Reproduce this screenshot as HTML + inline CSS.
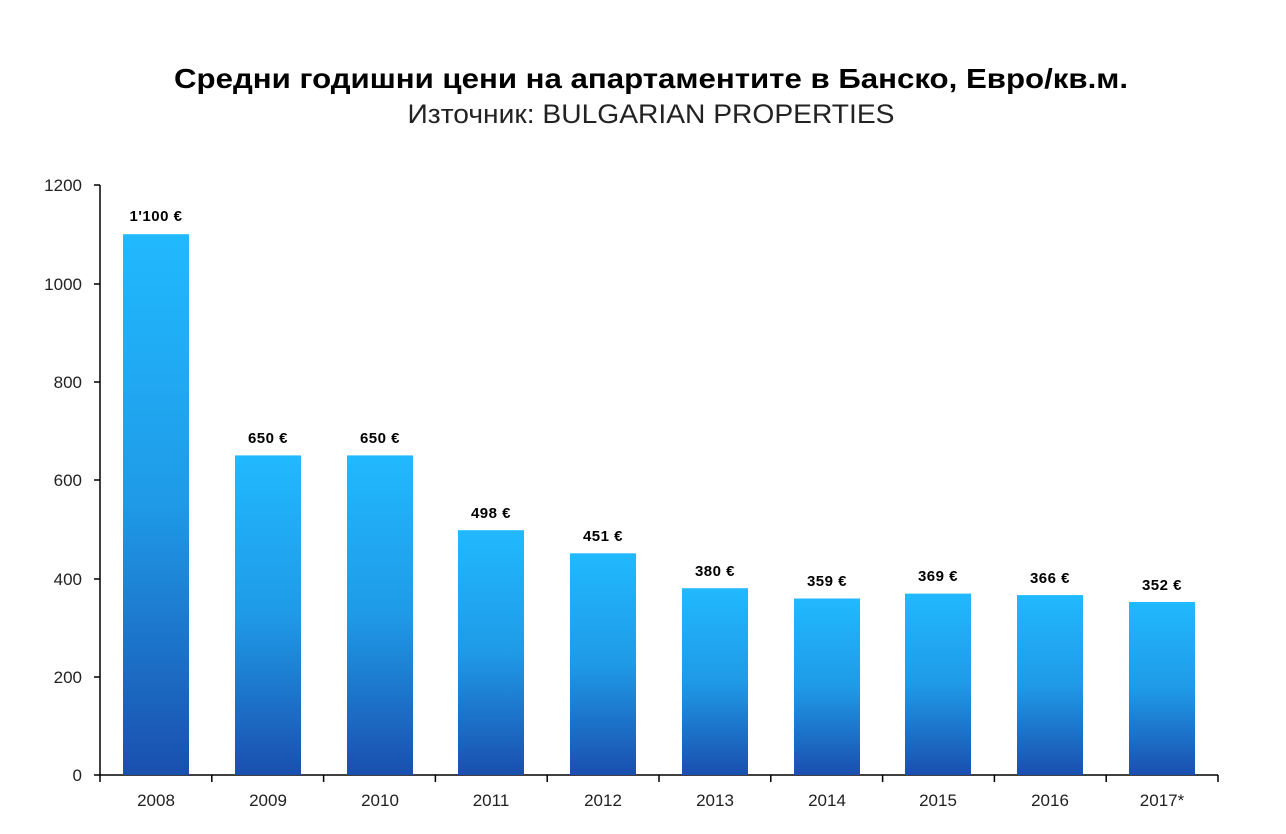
<!DOCTYPE html>
<html><head><meta charset="utf-8"><style>
html,body{margin:0;padding:0;background:#fff;}
svg{display:block;font-family:"Liberation Sans","DejaVu Sans",sans-serif;}
</style></head><body>
<svg width="1286" height="834" viewBox="0 0 1286 834" xmlns="http://www.w3.org/2000/svg">
<defs>
<linearGradient id="g" x1="0" y1="0" x2="0" y2="1">
<stop offset="0" stop-color="#21b9ff"/>
<stop offset="0.5" stop-color="#1f9ae6"/>
<stop offset="1" stop-color="#1a4fae"/>
</linearGradient>
</defs>
<text x="651" y="88" text-anchor="middle" font-size="28" font-weight="bold" textLength="954" lengthAdjust="spacingAndGlyphs">Средни годишни цени на апартаментите в Банско, Евро/кв.м.</text>
<text x="651" y="123" text-anchor="middle" font-size="27" fill="#222" textLength="487" lengthAdjust="spacingAndGlyphs">Източник: BULGARIAN PROPERTIES</text>
<g font-size="17" fill="#222" text-anchor="end">
<text x="82" y="781">0</text>
<text x="82" y="683">200</text>
<text x="82" y="585">400</text>
<text x="82" y="486">600</text>
<text x="82" y="388">800</text>
<text x="82" y="290">1000</text>
<text x="82" y="191">1200</text>
</g>
<g stroke="#000" stroke-width="1.5" fill="none">
<path d="M100,185V775H1218"/>
<path d="M94,775H100M94,677H100M94,579H100M94,480H100M94,382H100M94,284H100M94,185H100"/>
<path d="M100,775v7M211.8,775v7M323.6,775v7M435.4,775v7M547.2,775v7M659,775v7M770.8,775v7M882.6,775v7M994.4,775v7M1106.2,775v7M1218,775v7"/>
</g>
<g fill="url(#g)">
<rect x="123" y="234.2" width="66" height="540.8"/>
<rect x="235" y="455.4" width="66" height="319.6"/>
<rect x="347" y="455.4" width="66" height="319.6"/>
<rect x="458" y="530.2" width="66" height="244.8"/>
<rect x="570" y="553.3" width="66" height="221.7"/>
<rect x="682" y="588.2" width="66" height="186.8"/>
<rect x="794" y="598.5" width="66" height="176.5"/>
<rect x="905" y="593.6" width="66" height="181.4"/>
<rect x="1017" y="595.1" width="66" height="179.9"/>
<rect x="1129" y="602" width="66" height="173"/>
</g>
<g font-size="15" font-weight="bold" text-anchor="middle" letter-spacing="0.5">
<text x="156" y="221">1'100 €</text>
<text x="268" y="443">650 €</text>
<text x="380" y="443">650 €</text>
<text x="491" y="518">498 €</text>
<text x="603" y="541">451 €</text>
<text x="715" y="576">380 €</text>
<text x="827" y="586">359 €</text>
<text x="938" y="581">369 €</text>
<text x="1050" y="583">366 €</text>
<text x="1162" y="590">352 €</text>
</g>
<g font-size="17" fill="#222" text-anchor="middle">
<text x="156" y="806">2008</text>
<text x="268" y="806">2009</text>
<text x="380" y="806">2010</text>
<text x="491" y="806">2011</text>
<text x="603" y="806">2012</text>
<text x="715" y="806">2013</text>
<text x="827" y="806">2014</text>
<text x="938" y="806">2015</text>
<text x="1050" y="806">2016</text>
<text x="1162" y="806">2017*</text>
</g>
</svg>
</body></html>
